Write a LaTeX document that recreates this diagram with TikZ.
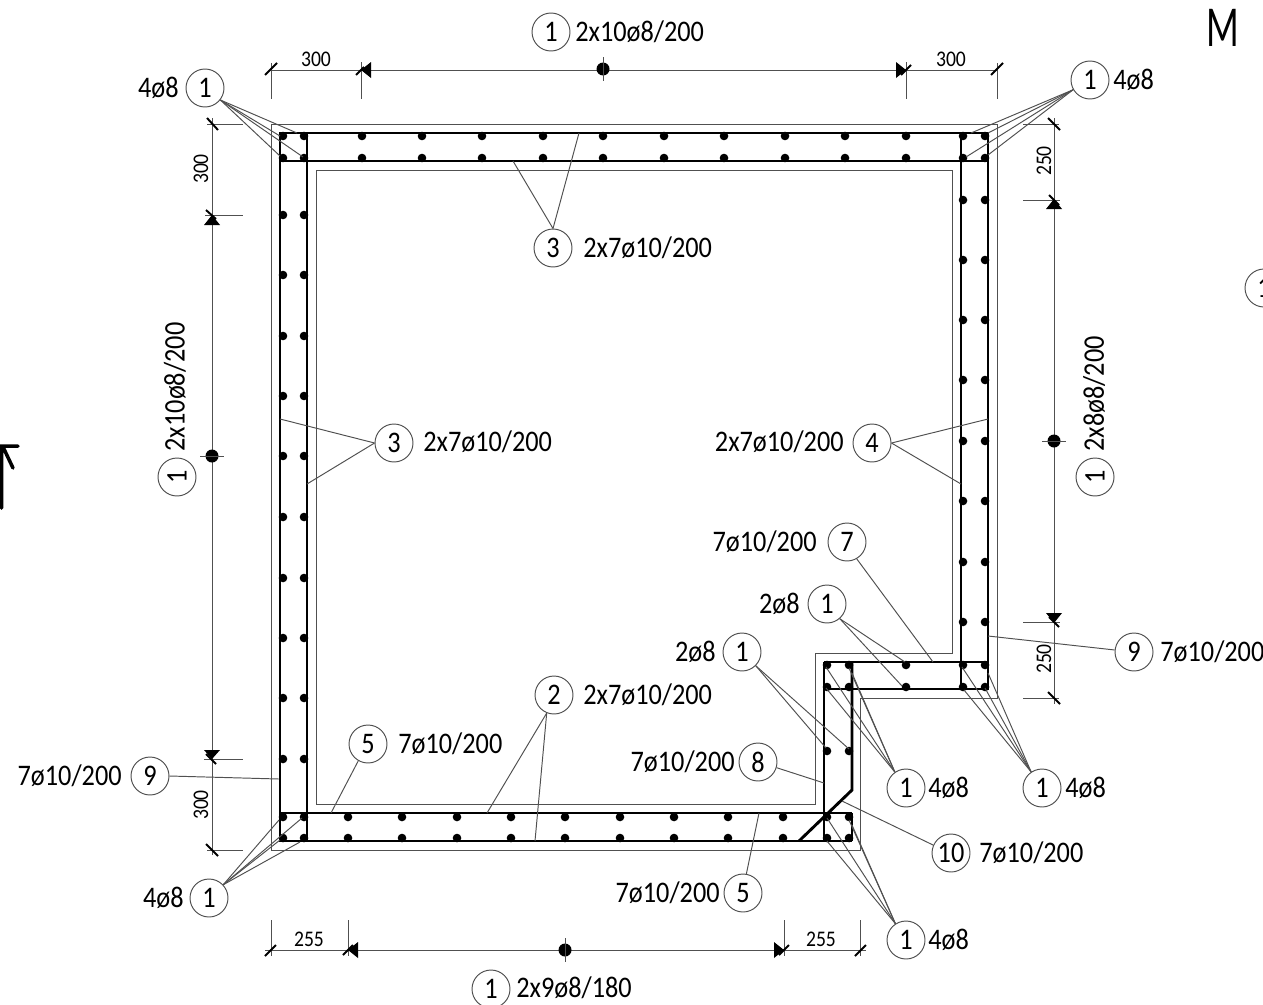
\documentclass[tikz,border=0pt]{standalone}
\usepackage{fontspec}
\setmainfont{Carlito}[FakeStretch=0.88]
\definecolor{thinline}{RGB}{80, 80, 80}
\tikzset{
  bubble/.style={draw=thinline, line width=0.55pt, circle, minimum size=0.76cm, inner sep=0pt, font=\fontsize{17}{20}\selectfont},
  bartext/.style={inner sep=0pt, font=\fontsize{17}{20}\selectfont},
  dimtext/.style={inner sep=0pt, font=\fontsize{12.7}{15}\selectfont},
  outline/.style={draw=thinline, line width=0.55pt},
  rebar/.style={draw=black, line width=1.65pt},
  leader/.style={draw=thinline, line width=0.55pt},
  dimline/.style={draw=thinline, line width=0.55pt},
  dimtick/.style={draw=black, line width=1.1pt}
}
\begin{document}
\begin{tikzpicture}[x=0.02cm, y=-0.02cm]
      \clip (0,0) rectangle (1263,1004);

      % Concrete outlines
      \draw[outline] (271,124) -- (997,124) -- (997,698) -- (860,698) -- (860,850) -- (271,850) -- cycle;
      \draw[outline] (316,170) -- (952,170) -- (952,653) -- (815,653) -- (815,804) -- (316,804) -- cycle;

      % Stirrup lines
      \draw[rebar] (280,133) rectangle (307,841);
      \draw[rebar] (280,133) -- (988,133) -- (988,689) -- (824,689);
      \draw[rebar] (280,161) -- (988,161);
      \draw[rebar] (961,133) -- (961,689);
      \draw[rebar] (824,662) -- (988,662);
      \draw[rebar] (824,662) -- (824,841);
      \draw[rebar] (852,662) -- (852,790) -- (799,841);
      \draw[rebar] (852,813) -- (852,841);
      \draw[rebar] (280,813) -- (852,813);
      \draw[rebar] (280,841) -- (852,841);

      % Bars
      \foreach \x in {283,304,362,422,482,543,603,664,724,785,845,906,963,985}
        \foreach \y in {136,158} \fill (\x,\y) circle (4.3);
      \foreach \y in {215,275,336,396,456,517,578,638,698,759}
        \foreach \x in {283,304} \fill (\x,\y) circle (4.3);
      \foreach \y in {200,260,320,380,441,501,562,622,665,687}
        \foreach \x in {963,985} \fill (\x,\y) circle (4.3);
      \foreach \x in {827,849,906}
        \foreach \y in {665,687} \fill (\x,\y) circle (4.3);
      \foreach \x in {827,849} \fill (\x,751) circle (4.3);
      \foreach \x in {283,304,348,402,457,511,565,620,674,728,783,827,849}
        \foreach \y in {817,838} \fill (\x,\y) circle (4.3);

      % Top dimension
      \coordinate (topA) at (271,70); \coordinate (topB) at (997,70);
      \draw[dimline] (topA) -- (topB);
      \draw[dimline] (271,63) -- (271,99) (361,62) -- (361,99) (906,62) -- (906,99) (997,63) -- (997,99);
      \draw[dimtick] (265,75) -- (277,63) (356,75) -- (364,67) (901,75) -- (911,65) (991,75) -- (1003,63);
      \fill (361,70) -- (371,62) -- (371,78) -- cycle;
      \fill (906,70) -- (896,62) -- (896,78) -- cycle;
      \fill (603,69) circle (6.5);
      \draw[dimline] (603,57) -- (603,81);
      \node[dimtext] (topL) at (316,59) {300};
      \node[dimtext] (topR) at (951,59) {300};

      % Left dimension
      \coordinate (leftA) at (212,118); \coordinate (leftB) at (212,855);
      \draw[dimline] (leftA) -- (leftB);
      \draw[dimline] (207,124) -- (243,124) (205,215) -- (243,215) (204,759) -- (243,759) (207,850) -- (243,850);
      \draw[dimtick] (207,118) -- (218,130) (206,210) -- (216,219) (206,754) -- (216,764) (206,844) -- (218,856);
      \fill (212,215) -- (204,225) -- (220,225) -- cycle;
      \fill (212,759) -- (204,750) -- (220,750) -- cycle;
      \fill (212,456) circle (6.5);
      \draw[dimline] (200,456) -- (224,456);
      \node[dimtext, rotate=90] (leftT) at (201,169) {300};
      \node[dimtext, rotate=90] (leftL) at (201,805) {300};

      % Right dimension
      \coordinate (rightA) at (1054,118); \coordinate (rightB) at (1054,704);
      \draw[dimline] (rightA) -- (rightB);
      \draw[dimline] (1023,124) -- (1059,124) (1023,200) -- (1060,200) (1023,622) -- (1060,622) (1023,698) -- (1059,698);
      \draw[dimtick] (1048,118) -- (1060,130) (1049,195) -- (1059,205) (1049,617) -- (1059,627) (1048,692) -- (1060,704);
      \fill (1054,199) -- (1046,209) -- (1062,209) -- cycle;
      \fill (1054,623) -- (1046,613) -- (1062,613) -- cycle;
      \fill (1054,441) circle (6.5);
      \draw[dimline] (1042,441) -- (1066,441);
      \node[dimtext, rotate=90] (rightT) at (1044,161) {250};
      \node[dimtext, rotate=90] (rightL) at (1044,659) {250};

      % Bottom dimension
      \coordinate (botA) at (265,950); \coordinate (botB) at (866,950);
      \draw[dimline] (botA) -- (botB);
      \draw[dimline] (271,920) -- (271,956) (348,920) -- (348,956) (784,920) -- (784,956) (860,920) -- (860,956);
      \draw[dimtick] (265,956) -- (276,945) (343,955) -- (353,945) (779,955) -- (789,945) (855,956) -- (866,945);
      \fill (348,950) -- (358,942) -- (358,958) -- cycle;
      \fill (784,950) -- (774,942) -- (774,958) -- cycle;
      \fill (565,950) circle (6.5);
      \draw[dimline] (565,938) -- (565,962);
      \node[dimtext] (botL) at (309,939) {255};
      \node[dimtext] (botR) at (821,939) {255};

      % Position bubbles and their texts
      \node[bubble] (bTop) at (551,32) {1};
      \node[bartext, anchor=west] (tTop) at (575,32) {2x10ø8/200};
      \node[bubble] (bTL) at (205,88) {1};
      \node[bartext, anchor=east] (tTL) at (179,88) {4ø8};
      \node[bubble] (bTR) at (1090,80) {1};
      \node[bartext, anchor=west] (tTR) at (1113,80) {4ø8};
      \node[bubble] (bLeft) at (177,477) {\rotatebox{90}{1}};
      \node[bartext, rotate=90] (tLeft) at (175,387) {2x10ø8/200};
      \node[bubble] (bRight) at (1095,477) {\rotatebox{90}{1}};
      \node[bartext, rotate=90] (tRight) at (1094,394) {2x8ø8/200};
      \node[bubble] (bBot) at (491,989) {1};
      \node[bartext, anchor=west] (tBot) at (516,988) {2x9ø8/180};
      \node[bubble] (bThreeT) at (553,248) {3};
      \node[bartext, anchor=west] (tThreeT) at (583,248) {2x7ø10/200};
      \node[bubble] (bThreeL) at (394,443) {3};
      \node[bartext, anchor=west] (tThreeL) at (423,442) {2x7ø10/200};
      \node[bubble] (bFour) at (872,443) {4};
      \node[bartext, anchor=east] (tFour) at (844,442) {2x7ø10/200};
      \node[bubble] (bSeven) at (847,542) {7};
      \node[bartext, anchor=east] (tSeven) at (817,542) {7ø10/200};
      \node[bubble] (bOneA) at (827,604) {1};
      \node[bartext, anchor=east] (tOneA) at (800,604) {2ø8};
      \node[bubble] (bOneB) at (742,652) {1};
      \node[bartext, anchor=east] (tOneB) at (716,652) {2ø8};
      \node[bubble] (bTwo) at (554,695) {2};
      \node[bartext, anchor=west] (tTwo) at (583,695) {2x7ø10/200};
      \node[bubble] (bFiveA) at (368,744) {5};
      \node[bartext, anchor=west] (tFiveA) at (398,744) {7ø10/200};
      \node[bubble] (bEight) at (758,762) {8};
      \node[bartext, anchor=east] (tEight) at (735,762) {7ø10/200};
      \node[bubble] (bNineL) at (150,776) {9};
      \node[bartext, anchor=east] (tNineL) at (122,776) {7ø10/200};
      \node[bubble] (bNineR) at (1134,652) {9};
      \node[bartext, anchor=west] (tNineR) at (1160,652) {7ø10/200};
      \node[bubble] (bOneC) at (906,788) {1};
      \node[bartext, anchor=west] (tOneC) at (928,788) {4ø8};
      \node[bubble] (bOneD) at (1042,788) {1};
      \node[bartext, anchor=west] (tOneD) at (1065,788) {4ø8};
      \node[bubble] (bTen) at (951,853) {10};
      \node[bartext, anchor=west] (tTen) at (979,853) {7ø10/200};
      \node[bubble] (bFiveB) at (743,893) {5};
      \node[bartext, anchor=east] (tFiveB) at (720,893) {7ø10/200};
      \node[bubble] (bBL) at (209,898) {1};
      \node[bartext, anchor=east] (tBL) at (184,898) {4ø8};
      \node[bubble] (bOneE) at (906,940) {1};
      \node[bartext, anchor=west] (tOneE) at (928,940) {4ø8};
      \node[bubble] (bCut) at (1264,288) {1};

      % Leader ends
      \coordinate (tlA) at (297,133); \coordinate (tlB) at (280,136); \coordinate (tlC) at (303,157); \coordinate (tlD) at (280,156);
      \coordinate (trA) at (971,133); \coordinate (trB) at (988,133); \coordinate (trC) at (966,157); \coordinate (trD) at (988,155);
      \coordinate (blA) at (279,820); \coordinate (blB) at (302,818); \coordinate (blC) at (280,840); \coordinate (blD) at (300,842);
      \coordinate (oaA) at (905,662); \coordinate (oaB) at (902,686);
      \coordinate (obA) at (826,748); \coordinate (obB) at (849,749);
      \coordinate (ocA) at (826,667); \coordinate (ocB) at (852,673); \coordinate (ocC) at (826,688); \coordinate (ocD) at (849,668);
      \coordinate (odA) at (962,667); \coordinate (odB) at (988,673); \coordinate (odC) at (964,690); \coordinate (odD) at (985,688);
      \coordinate (oeA) at (827,818); \coordinate (oeB) at (852,825); \coordinate (oeC) at (827,841); \coordinate (oeD) at (849,820);
      \coordinate (ttA) at (513,161); \coordinate (ttB) at (579,133);
      \coordinate (tlfA) at (280,419); \coordinate (tlfB) at (307,484);
      \coordinate (frA) at (988,419); \coordinate (frB) at (961,484);
      \coordinate (twA) at (487,813); \coordinate (twB) at (535,841);
      \coordinate (svA) at (933,662); \coordinate (fvA) at (331,813); \coordinate (fvB) at (759,813);
      \coordinate (eiA) at (824,783); \coordinate (teA) at (842,801);
      \coordinate (niA) at (279,779); \coordinate (niB) at (988,636);

      % Leaders
      \foreach \e in {tlA,tlB,tlC,tlD} \draw[leader] (bTL.-38) -- (\e);
      \foreach \e in {trA,trB,trC,trD} \draw[leader] (bTR.210) -- (\e);
      \foreach \e in {blA,blB,blC,blD} \draw[leader] (bBL.43) -- (\e);
      \foreach \e in {oaA,oaB} \draw[leader] (bOneA.-49) -- (\e);
      \foreach \e in {obA,obB} \draw[leader] (bOneB.-45) -- (\e);
      \foreach \e in {ocA,ocB,ocC,ocD} \draw[leader] (bOneC.125) -- (\e);
      \foreach \e in {odA,odB,odC,odD} \draw[leader] (bOneD.124) -- (\e);
      \foreach \e in {oeA,oeB,oeC,oeD} \draw[leader] (bOneE.123) -- (\e);
      \foreach \e in {ttA,ttB} \draw[leader] (bThreeT.90) -- (\e);
      \foreach \e in {tlfA,tlfB} \draw[leader] (bThreeL.180) -- (\e);
      \foreach \e in {frA,frB} \draw[leader] (bFour.0) -- (\e);
      \foreach \e in {twA,twB} \draw[leader] (bTwo.-112) -- (\e);
      \draw[leader] (bSeven.-60) -- (svA);
      \draw[leader] (bFiveA.-120) -- (fvA);
      \draw[leader] (bFiveB.80) -- (fvB);
      \draw[leader] (bEight.-17) -- (eiA);
      \draw[leader] (bTen.156) -- (teA);
      \draw[leader] (bNineL.0) -- (niA);
      \draw[leader] (bNineR.174) -- (niB);

      % Section mark and north arrow
      \node[inner sep=0pt, font=\fontsize{33}{38}\selectfont] (markM) at (1223,28) {\scalebox{0.75}[1]{M}};
      \draw[line width=2pt, line cap=round] (1.5,508) -- (1.5,446) (0,446) -- (18,446) (4,449) -- (13,468);
    \end{tikzpicture}
\end{document}
